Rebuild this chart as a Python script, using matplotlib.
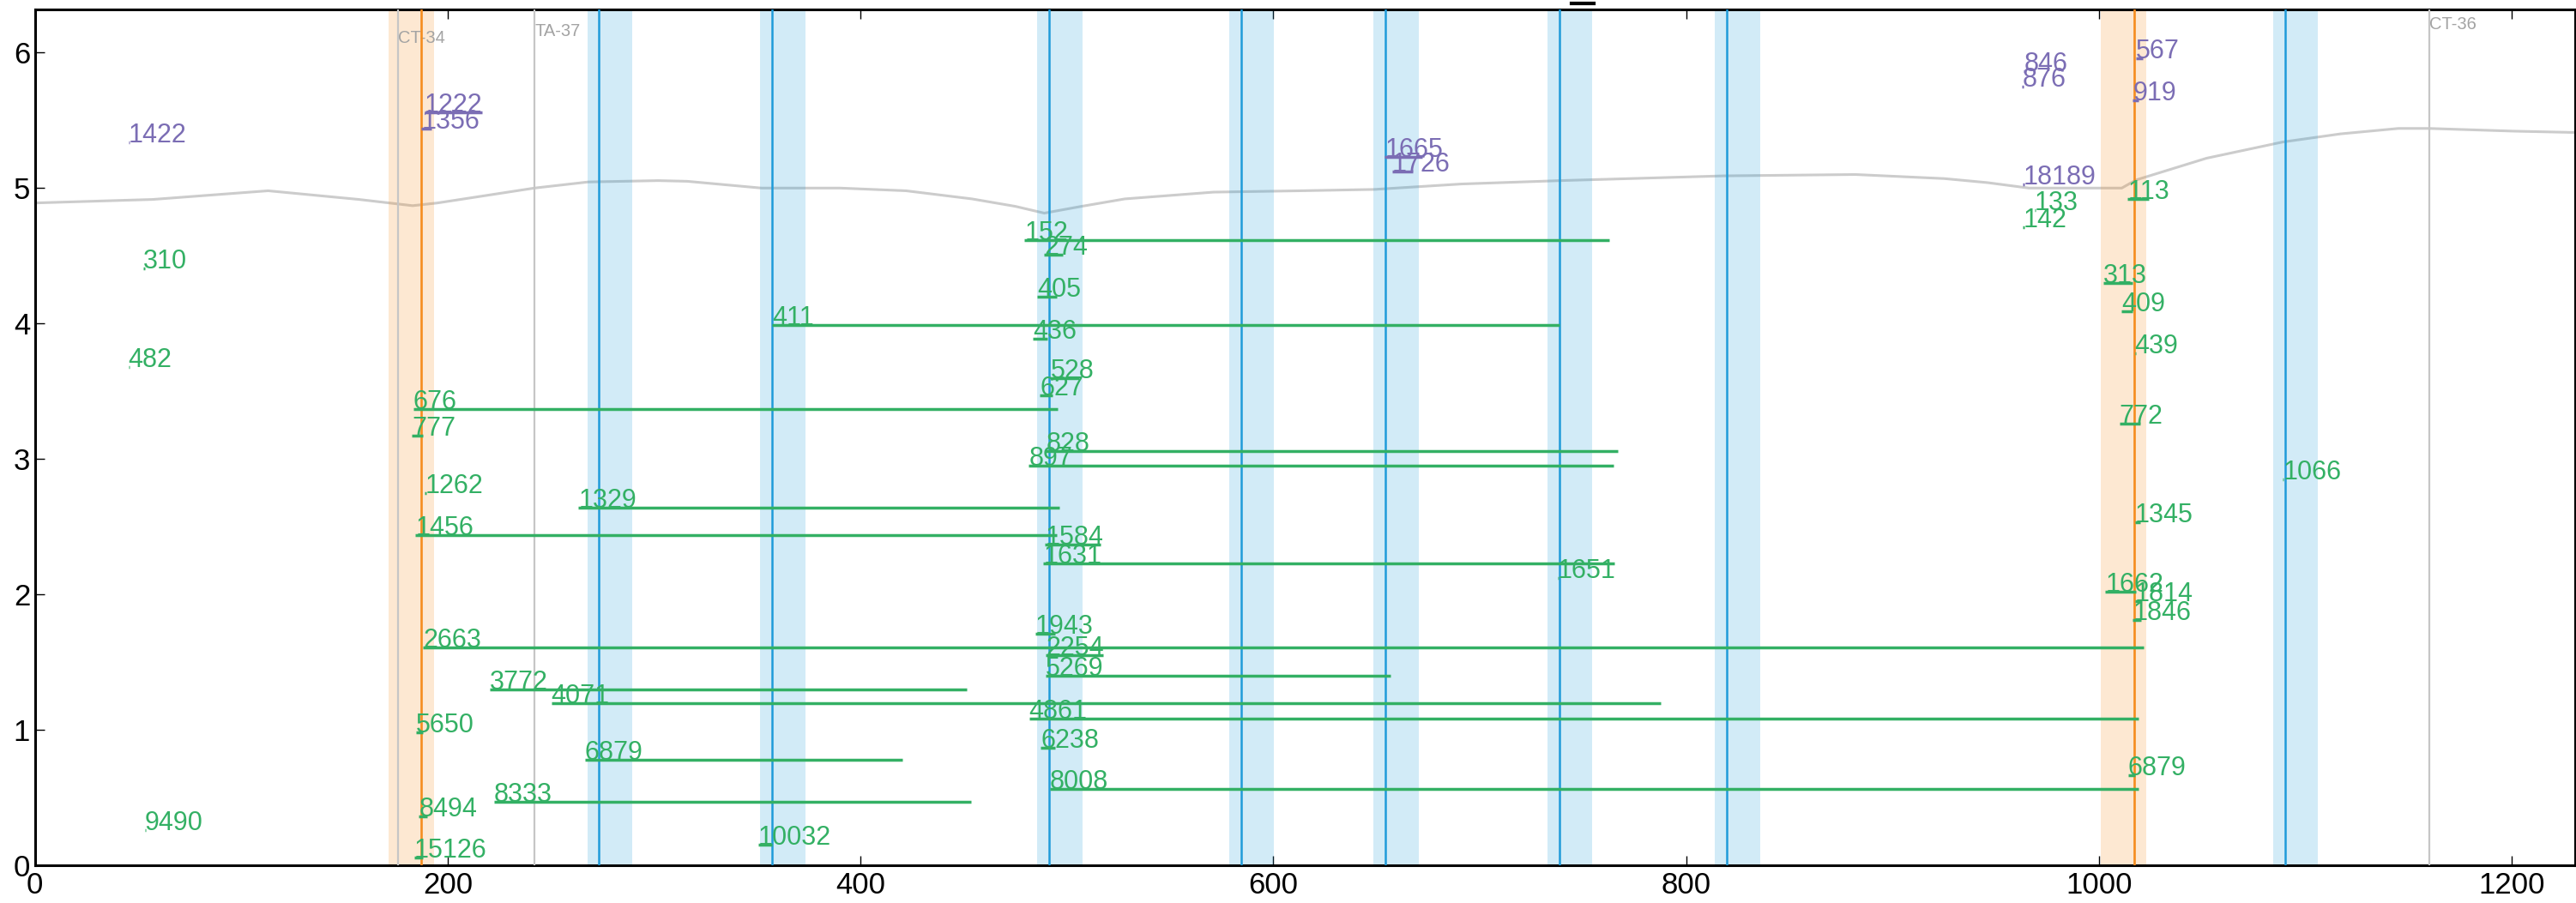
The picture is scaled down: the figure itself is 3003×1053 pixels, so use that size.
import matplotlib
matplotlib.use("Agg")
import matplotlib.pyplot as plt
from matplotlib.lines import Line2D

plt.rcParams['font.family'] = ['Liberation Sans', 'DejaVu Sans']

# ---- datos ----
# perfil gris (x, y)
perfil_x = [0, 57, 113, 157, 183, 195, 242, 268, 302, 316, 352, 390, 422, 454,
            475, 489, 507, 528, 571, 613, 649, 691, 739, 818, 882, 925, 946,
            966, 1011, 1018, 1052, 1089, 1117, 1145, 1160, 1201, 1231]
perfil_y = [4.89, 4.916, 4.98, 4.916, 4.87, 4.89, 5.0, 5.045, 5.055, 5.05, 5.0,
            5.0, 4.98, 4.92, 4.865, 4.815, 4.865, 4.92, 4.97, 4.98, 4.99, 5.03,
            5.055, 5.09, 5.10, 5.07, 5.04, 5.0, 5.0, 5.06, 5.22, 5.34, 5.40,
            5.44, 5.44, 5.42, 5.41]

# marcadores grises con etiqueta
marcas_x = [175.8, 242, 1160]
marcas_txt = ["CT-34", "TA-37", "CT-36"]
marcas_y = [6.07, 6.12, 6.17]

# bandas azules
azul_lineas = [273, 357.3, 491.5, 584.6, 654.4, 738.5, 819.8, 1090]
azul_ini = [267.6, 351.3, 485.6, 578.7, 648.5, 732.7, 813.9, 1084.4]
azul_fin = [289.3, 373.3, 507.7, 600.3, 670.6, 754.6, 835.7, 1106.1]

# bandas naranjas
naranja_lineas = [187.1, 1016.9]
naranja_ini = [171.2, 1001]
naranja_fin = [193.2, 1022.9]

# segmentos verdes: etiqueta, inicio, fin, nivel
verde_txt = ["310", "482", "676", "777", "1262", "1329", "1456", "2663", "3772",
             "4071", "5650", "6879", "8333", "8494", "9490", "15126", "152",
             "274", "405", "411", "436", "528", "627", "828", "897", "1584",
             "1631", "1651", "1943", "2254", "5269", "4861", "6238", "8008",
             "10032", "113", "133", "142", "313", "409", "439", "772", "1066",
             "1345", "1662", "1814", "1846", "6879"]
verde_x0 = [52.6, 45.3, 183.2, 182.7, 189, 263.3, 184.4, 188, 220.2, 250.1,
            184.5, 266.4, 222.3, 186, 53.2, 183.8, 479.4, 488.9, 485.6, 357.3,
            483.6, 492, 486.8, 489.8, 481.5, 489.4, 488.5, 737.7, 484.6, 489.8,
            489.5, 481.6, 487.3, 491.6, 350.4, 1013.9, 968.8, 963.2, 1002,
            1010.8, 1017.3, 1009.8, 1089, 1017.3, 1003, 1017.3, 1016.4, 1014]
verde_x1 = [53.2, 45.8, 495.5, 187.9, 189.6, 496.5, 495.2, 1021.6, 451.3, 787.6,
            188, 420.3, 453.4, 190, 53.7, 188, 762.7, 498, 495.2, 738.5, 490.3,
            506, 493.1, 766.7, 764.8, 516.4, 765.4, 738.2, 494.2, 517.6, 656.6,
            1019, 494.2, 1019, 357.3, 1023.9, 969.3, 963.7, 1016.4, 1016.4,
            1017.8, 1020.1, 1089.5, 1020, 1018, 1020, 1020.4, 1017.3]
verde_y = [4.41, 3.68, 3.37, 3.17, 2.75, 2.644, 2.438, 1.61, 1.298, 1.195, 0.98,
           0.78, 0.47, 0.36, 0.26, 0.057, 4.615, 4.51, 4.196, 3.99, 3.89, 3.60,
           3.47, 3.06, 2.954, 2.367, 2.229, 2.12, 1.71, 1.554, 1.40, 1.087,
           0.872, 0.567, 0.152, 4.92, 4.84, 4.71, 4.30, 4.09, 3.78, 3.26, 2.85,
           2.535, 2.02, 1.95, 1.81, 0.667]

# segmentos morados
morado_txt = ["1422", "1222", "1356", "1665", "1726", "846", "876", "567", "919",
              "18189"]
morado_x0 = [45.3, 188.6, 187.3, 654, 657.6, 963.5, 962.8, 1017.8, 1016.4, 963.2]
morado_x1 = [45.8, 216.5, 192.2, 672, 667.4, 964, 963.3, 1021, 1019.2, 963.7]
morado_y = [5.34, 5.56, 5.44, 5.23, 5.125, 5.86, 5.75, 5.96, 5.65, 5.03]

VERDE = "#33b064"
MORADO = "#7b6db4"
AZUL = "#1f9bd9"
NARANJA = "#f58c1e"

fig = plt.figure(figsize=(30.03, 10.53), dpi=100)
ax = fig.add_axes([0.01355, 0.0415, 0.9860, 0.9483])

for a, b in zip(azul_ini, azul_fin):
    ax.axvspan(a, b, color=AZUL, alpha=0.2, lw=0, zorder=2)
for a, b in zip(naranja_ini, naranja_fin):
    ax.axvspan(a, b, color=NARANJA, alpha=0.2, lw=0, zorder=2)

ax.plot(perfil_x, perfil_y, color="#cccccc", lw=2.2, zorder=1)

for xv, t, yv in zip(marcas_x, marcas_txt, marcas_y):
    ax.axvline(xv, color="#c6c6c6", lw=1.6, zorder=3)
    ax.text(xv, yv, t, color="#a3a3a3", fontsize=14.5, ha="left",
            va="baseline", zorder=3)

for xv in azul_lineas:
    ax.axvline(xv, color=AZUL, lw=1.8, zorder=3)
for xv in naranja_lineas:
    ax.axvline(xv, color=NARANJA, lw=1.9, zorder=3)

ax.hlines(verde_y, verde_x0, verde_x1, color=VERDE, lw=2.5, zorder=4)
for t, x0, yv in zip(verde_txt, verde_x0, verde_y):
    ax.text(x0, yv, t, color=VERDE, fontsize=22, ha="left", va="baseline",
            zorder=5)

ax.hlines(morado_y, morado_x0, morado_x1, color=MORADO, lw=2.5, zorder=4)
for t, x0, yv in zip(morado_txt, morado_x0, morado_y):
    ax.text(x0, yv, t, color=MORADO, fontsize=22, ha="left", va="baseline",
            zorder=5)

ax.set_xlim(0, 1230.5)
ax.set_ylim(0, 6.32)
ax.set_xticks([0, 200, 400, 600, 800, 1000, 1200])
ax.set_yticks([0, 1, 2, 3, 4, 5, 6])
ax.tick_params(direction="in", top=True, right=False, length=8, width=1,
               labelsize=25)
ax.tick_params(axis="x", pad=5)
ax.tick_params(axis="y", pad=4)
for s in ax.spines.values():
    s.set_linewidth(2.2)

# marca negra sobre el eje superior
fig.add_artist(Line2D([0.610, 0.6187], [0.9962, 0.9962], color="black",
                      lw=3, transform=fig.transFigure))

fig.savefig("out.png", dpi=100)
